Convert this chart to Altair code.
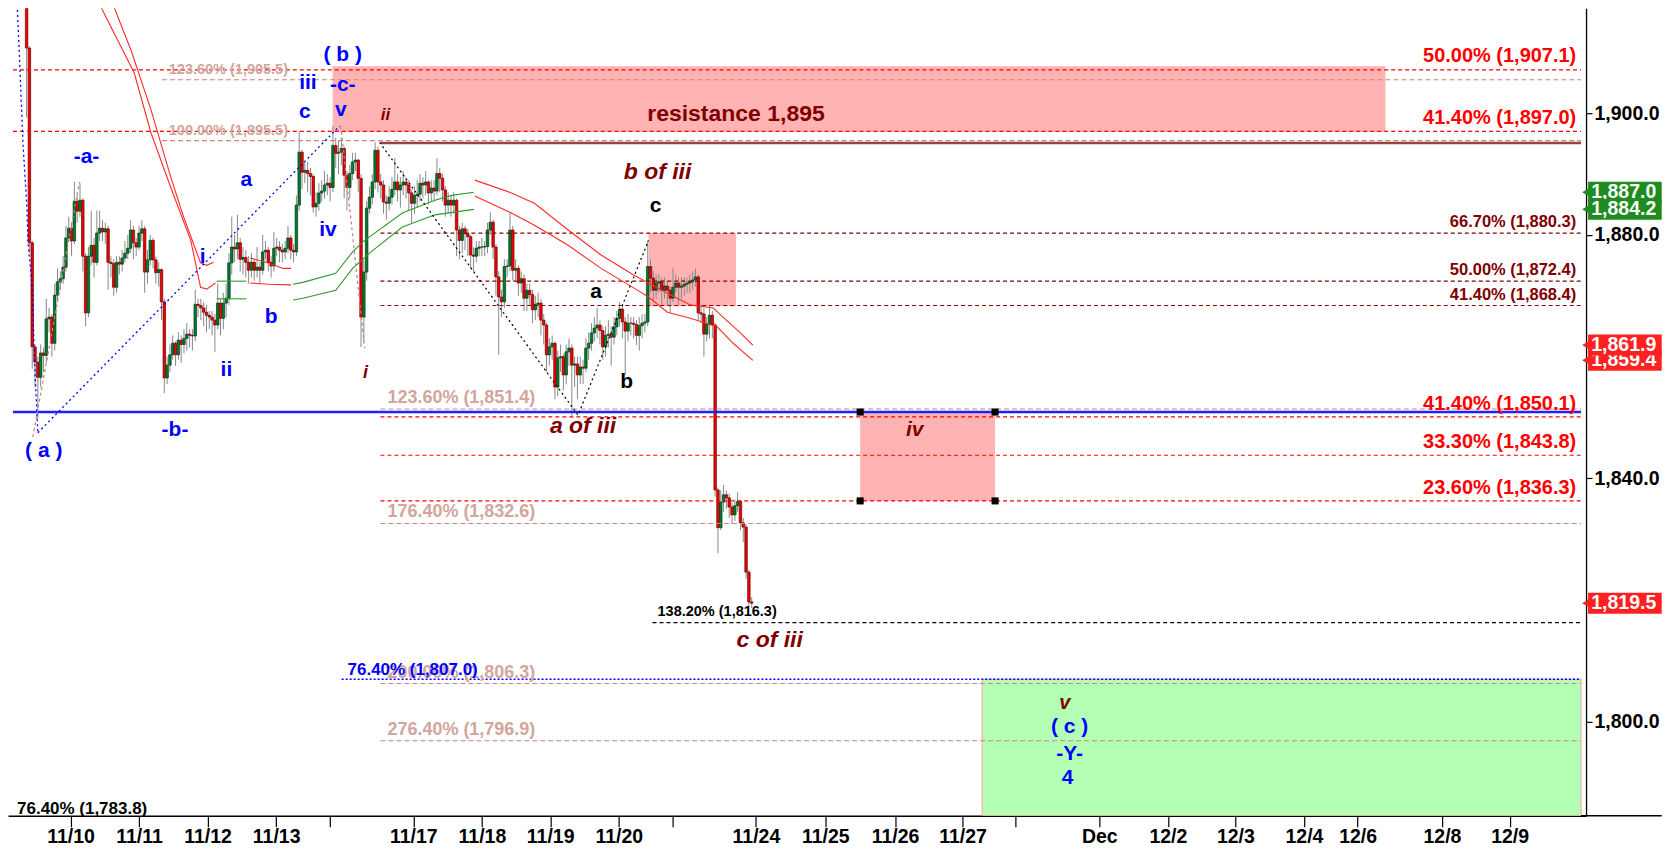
import altair as alt
import pandas as pd

FONT = "Liberation Sans"

# ---------------- candles (bar index 1..259), open = previous close ----------------
FIRST_OPEN = 1925.0
closes = [
    1910.7, 1878.7, 1861.6, 1859.1, 1856.6, 1860.6, 1860.2, 1866.2, 1866.5, 1862.2,
    1870.1, 1872.3, 1872.8, 1874.7, 1879.5, 1881.1, 1879.0, 1885.5, 1883.9, 1885.7,
    1876.5, 1867.2, 1876.5, 1878.3, 1875.5, 1880.3, 1881.1, 1880.5, 1881.0, 1875.5,
    1875.3, 1871.4, 1875.5, 1875.2, 1876.2, 1877.0, 1877.8, 1880.8, 1878.7, 1878.0,
    1880.3, 1881.0, 1873.9, 1875.9, 1879.1, 1875.9, 1873.8, 1874.3, 1869.0, 1856.5,
    1858.6, 1860.3, 1862.2, 1860.3, 1862.7, 1862.0, 1863.0, 1863.7, 1863.5, 1863.4,
    1868.6, 1868.4, 1868.0, 1867.3, 1866.8, 1866.5, 1866.0, 1865.2, 1868.8, 1866.3,
    1868.8, 1869.6, 1875.4, 1878.0, 1877.7, 1878.7, 1876.0, 1876.3, 1875.5, 1874.2,
    1875.5, 1874.2, 1874.7, 1874.2, 1877.2, 1877.5, 1875.5, 1874.9, 1877.8, 1878.0,
    1877.5, 1877.2, 1877.8, 1879.5, 1877.5, 1877.2, 1884.9, 1893.6, 1890.3, 1890.6,
    1890.1, 1889.6, 1884.6, 1885.2, 1886.9, 1887.2, 1888.2, 1888.5, 1887.8, 1894.7,
    1893.4, 1893.6, 1894.2, 1889.8, 1887.8, 1890.1, 1892.0, 1892.3, 1889.3, 1866.5,
    1873.9, 1884.4, 1886.2, 1888.7, 1893.9, 1888.7, 1888.2, 1885.4, 1885.2, 1886.2,
    1887.5, 1888.7, 1887.4, 1888.2, 1888.7, 1888.2, 1886.9, 1885.2, 1886.5, 1886.7,
    1888.5, 1888.2, 1888.7, 1886.9, 1887.7, 1887.2, 1890.1, 1889.3, 1887.4, 1884.9,
    1885.7, 1884.9, 1885.7, 1880.8, 1879.1, 1881.0, 1880.2, 1879.7, 1876.7, 1876.5,
    1877.8, 1878.0, 1878.0, 1878.1, 1880.8, 1882.1, 1878.0, 1873.1, 1869.8, 1869.0,
    1874.8, 1874.9, 1880.8, 1874.2, 1874.5, 1872.1, 1872.8, 1869.6, 1870.9, 1870.2,
    1867.7, 1868.6, 1868.8, 1866.0, 1865.2, 1860.3, 1861.6, 1862.2, 1855.0, 1859.8,
    1860.0, 1857.0, 1860.8, 1861.4, 1858.6, 1858.8, 1857.0, 1858.3, 1858.1, 1861.4,
    1862.2, 1863.9, 1864.7, 1865.2, 1864.3, 1861.6, 1863.5, 1863.7, 1863.2, 1864.9,
    1866.3, 1867.8, 1865.7, 1864.2, 1865.5, 1865.5, 1865.3, 1863.5, 1865.1, 1865.5,
    1865.7, 1874.8, 1872.9, 1870.9, 1872.1, 1872.3, 1870.9, 1871.6, 1870.9, 1869.6,
    1871.4, 1872.1, 1871.4, 1871.6, 1871.9, 1872.1, 1872.3, 1872.6, 1873.1, 1867.2,
    1867.0, 1863.7, 1865.3, 1866.8, 1865.2, 1838.1, 1831.9, 1836.1, 1837.3, 1836.8,
    1835.3, 1834.0, 1835.5, 1836.2, 1832.7, 1832.0, 1824.6, 1819.7, 1819.5,
]
highs = [
    1925.0, 1911.0, 1879.0, 1862.0, 1860.0, 1862.0, 1861.5, 1869.5, 1868.0, 1867.0,
    1872.0, 1874.5, 1874.0, 1876.5, 1881.5, 1883.0, 1882.0, 1888.7, 1886.5, 1888.5,
    1886.0, 1877.0, 1878.0, 1884.0, 1879.5, 1884.0, 1884.0, 1882.5, 1882.0, 1881.5,
    1876.5, 1876.0, 1876.5, 1876.5, 1877.5, 1879.0, 1880.0, 1882.4, 1881.5, 1879.5,
    1881.5, 1882.4, 1881.5, 1877.5, 1880.0, 1879.5, 1876.5, 1875.5, 1874.5, 1869.5,
    1860.0, 1862.0, 1863.5, 1862.5, 1864.0, 1863.5, 1864.5, 1865.5, 1864.5, 1864.5,
    1871.0, 1869.5, 1869.5, 1869.0, 1868.5, 1867.5, 1867.5, 1867.0, 1872.0, 1869.5,
    1870.5, 1872.0, 1877.0, 1883.0, 1880.0, 1883.3, 1879.5, 1878.0, 1877.5, 1876.5,
    1877.0, 1876.0, 1878.0, 1875.5, 1880.0, 1879.0, 1878.0, 1876.5, 1880.5, 1879.5,
    1879.0, 1878.5, 1879.0, 1881.5, 1880.0, 1878.5, 1886.5, 1897.0, 1894.0, 1892.0,
    1892.0, 1891.0, 1890.0, 1887.0, 1888.5, 1889.0, 1890.5, 1890.0, 1889.5, 1897.9,
    1896.0, 1895.5, 1896.0, 1894.5, 1890.5, 1891.5, 1893.5, 1893.5, 1892.5, 1890.0,
    1876.0, 1885.5, 1888.0, 1890.0, 1895.2, 1894.5, 1890.0, 1889.0, 1886.5, 1888.0,
    1889.5, 1892.6, 1890.0, 1889.5, 1890.5, 1889.5, 1889.0, 1887.5, 1888.0, 1889.0,
    1890.0, 1889.5, 1890.5, 1889.0, 1889.0, 1889.0, 1892.6, 1891.0, 1890.0, 1888.0,
    1887.0, 1886.5, 1887.0, 1886.0, 1881.5, 1882.0, 1881.5, 1881.0, 1880.0, 1878.0,
    1879.0, 1879.0, 1879.5, 1879.0, 1882.0, 1883.7, 1882.5, 1878.5, 1874.0, 1871.0,
    1876.0, 1876.0, 1883.7, 1881.5, 1876.0, 1875.0, 1874.0, 1873.5, 1872.0, 1872.0,
    1871.0, 1870.0, 1870.5, 1869.5, 1867.0, 1865.5, 1863.0, 1863.5, 1862.5, 1861.0,
    1862.0, 1860.5, 1862.0, 1863.0, 1862.0, 1860.0, 1860.0, 1860.0, 1859.5, 1863.0,
    1864.0, 1865.5, 1866.5, 1868.0, 1866.0, 1865.0, 1865.0, 1866.0, 1865.0, 1866.5,
    1867.5, 1869.0, 1868.5, 1866.5, 1867.0, 1866.5, 1866.5, 1866.0, 1866.5, 1867.0,
    1867.0, 1879.1, 1876.0, 1874.0, 1873.5, 1873.5, 1873.0, 1873.0, 1872.5, 1871.5,
    1874.5, 1873.5, 1873.0, 1873.0, 1873.0, 1873.0, 1873.5, 1874.0, 1874.5, 1873.5,
    1868.5, 1868.0, 1866.5, 1868.5, 1867.5, 1865.5, 1838.5, 1838.0, 1838.9, 1838.0,
    1837.5, 1836.0, 1836.5, 1837.7, 1836.5, 1833.5, 1832.5, 1825.0, 1820.5,
]
lows = [
    1899.3, 1877.0, 1858.0, 1855.0, 1849.8, 1855.0, 1857.5, 1859.0, 1864.0, 1860.0,
    1861.0, 1869.0, 1871.0, 1872.0, 1874.0, 1879.0, 1876.5, 1878.5, 1882.0, 1883.0,
    1874.0, 1865.0, 1866.5, 1875.0, 1873.0, 1875.0, 1879.0, 1879.0, 1878.5, 1871.0,
    1873.0, 1870.0, 1870.5, 1873.5, 1874.0, 1875.5, 1876.0, 1877.0, 1876.0, 1876.5,
    1877.5, 1879.0, 1870.5, 1872.0, 1875.0, 1874.5, 1872.0, 1871.5, 1866.0, 1854.0,
    1855.5, 1857.5, 1859.5, 1858.5, 1859.5, 1859.0, 1860.5, 1861.0, 1861.5, 1861.0,
    1862.5, 1866.5, 1866.0, 1865.0, 1864.0, 1864.5, 1863.5, 1860.8, 1864.5, 1863.5,
    1864.5, 1866.5, 1868.5, 1873.5, 1875.5, 1876.0, 1874.0, 1873.5, 1873.0, 1872.0,
    1873.0, 1872.5, 1873.0, 1872.0, 1873.5, 1876.0, 1874.0, 1873.0, 1874.0, 1876.5,
    1875.5, 1875.5, 1876.0, 1877.0, 1876.0, 1875.5, 1876.5, 1884.0, 1887.5, 1888.5,
    1887.0, 1886.5, 1883.7, 1883.0, 1884.0, 1885.5, 1886.0, 1886.5, 1885.5, 1887.0,
    1891.0, 1890.0, 1891.5, 1886.0, 1884.0, 1886.0, 1889.0, 1890.5, 1887.0, 1861.6,
    1862.5, 1872.5, 1883.5, 1885.0, 1887.5, 1887.0, 1886.0, 1883.5, 1882.5, 1884.0,
    1885.0, 1886.5, 1885.5, 1884.5, 1886.5, 1886.0, 1884.0, 1882.0, 1883.5, 1884.5,
    1885.5, 1886.0, 1886.5, 1885.0, 1885.5, 1885.5, 1886.5, 1887.0, 1885.5, 1883.0,
    1883.5, 1883.0, 1883.5, 1876.5, 1876.0, 1877.0, 1877.5, 1876.5, 1874.5, 1874.0,
    1875.5, 1876.5, 1876.5, 1876.5, 1877.0, 1880.0, 1876.0, 1870.0, 1860.3, 1866.5,
    1868.0, 1873.0, 1874.0, 1872.5, 1872.5, 1870.0, 1870.5, 1867.5, 1867.5, 1868.5,
    1865.5, 1866.0, 1866.5, 1863.5, 1862.0, 1857.5, 1858.5, 1859.5, 1853.0, 1853.5,
    1857.5, 1854.5, 1855.5, 1858.5, 1850.0, 1855.0, 1853.0, 1855.5, 1855.5, 1857.5,
    1859.5, 1861.0, 1862.5, 1863.0, 1862.0, 1859.5, 1860.0, 1861.5, 1858.5, 1862.0,
    1863.5, 1865.0, 1863.0, 1857.0, 1862.5, 1863.5, 1863.0, 1861.9, 1861.0, 1863.0,
    1864.0, 1865.0, 1870.5, 1869.0, 1869.5, 1870.5, 1868.5, 1869.5, 1868.5, 1867.2,
    1869.0, 1870.5, 1868.5, 1869.5, 1870.0, 1870.5, 1870.5, 1871.0, 1871.5, 1866.0,
    1865.5, 1860.0, 1862.5, 1863.0, 1863.0, 1837.0, 1827.7, 1831.5, 1834.5, 1835.0,
    1833.5, 1832.5, 1833.0, 1834.5, 1831.5, 1829.5, 1823.5, 1819.0, 1818.7,
]

# ---------------- axes ----------------
tick_bars = [16.65, 41.0, 65.4, 89.8, 108.9, 138.6, 163.0, 187.3, 211.7, 230.8, 260.5,
             285.2, 310.0, 334.0, 353.0, 382.7, 407.1, 431.1, 455.5, 474.6, 504.6, 528.7]
tick_labels = ["11/10", "11/11", "11/12", "11/13", "", "11/17", "11/18", "11/19", "11/20", "",
               "11/24", "11/25", "11/26", "11/27", "", "Dec", "12/2", "12/3", "12/4", "12/6",
               "12/8", "12/9"]
y_ticks = [1800, 1840, 1880, 1900]

X_DOMAIN = [-3.84, 554.1]
Y_DOMAIN = [1784.57, 1917.24]

# ---------------- fibonacci / levels ----------------
red_full = [1907.1, 1897.0]
red_right = [1850.1, 1843.8, 1836.3]
darkred_right = [1880.3, 1872.4, 1868.4]
pink_upper = [1905.5, 1895.5]
pink_lower = [1851.4, 1832.6, 1806.3, 1796.9]
black_level = [1816.3]
blue_dot_level = [1807.0]
blue_solid_level = [1850.9]
resistance_level = [1895.1]
LEFT_START = 126.9
PINK_UPPER_START = 49.2
BLACK_START = 223.7
BLUE_DOT_START = 113.1

red_right_labels = ["50.00% (1,907.1)", "41.40% (1,897.0)", "41.40% (1,850.1)",
                    "33.30% (1,843.8)", "23.60% (1,836.3)"]
red_right_label_y = [1909.4, 1899.2, 1852.2, 1846.0, 1838.4]
darkred_labels = ["66.70% (1,880.3)", "50.00% (1,872.4)", "41.40% (1,868.4)"]
darkred_label_y = [1882.1, 1874.2, 1870.1]
pink_small_labels = ["123.60% (1,905.5)", "100.00% (1,895.5)"]
pink_small_y = [1907.1, 1897.0]
pink_big_labels = ["123.60% (1,851.4)", "176.40% (1,832.6)", "200.00% (1,806.3)", "276.40% (1,796.9)"]
pink_big_y = [1853.2, 1834.5, 1808.0, 1798.7]
RIGHT_LABEL_X = 552.4
PINK_SMALL_X = 51.6
PINK_BIG_X = 129.4

# ---------------- boxes ----------------
box_x1 = [109.9, 222.3, 297.6]
box_x2 = [484.5, 253.4, 345.6]
box_lo = [1896.9, 1868.3, 1836.3]
box_hi = [1907.7, 1880.3, 1850.9]
green_box = dict(x1=341.0, x2=X_DOMAIN[1], lo=Y_DOMAIN[0], hi=1807.0)
corner_bar = [297.6, 345.6, 297.6, 345.6]
corner_price = [1850.9, 1850.9, 1836.3, 1836.3]

# ---------------- moving-average envelopes ----------------
red_ma = {
    "A": ([26.2, 32.2, 39.3, 45.3, 52.3, 59.4, 62.9, 65.1, 68.2],
          [1918.6, 1913.1, 1906.6, 1896.7, 1887.8, 1879.1, 1871.4, 1871.1, 1872.1]),
    "B": ([31.1, 38.2, 45.3, 52.3, 56.9, 62.9, 65.1, 67.5],
          [1918.6, 1910.3, 1900.5, 1889.5, 1882.9, 1875.4, 1875.0, 1875.5]),
    "C": ([80.6, 87.0, 92.3, 95.1], [1876.2, 1875.4, 1874.5, 1874.5]),
    "D": ([80.6, 87.0, 95.1], [1872.1, 1871.9, 1871.8]),
    "E": ([160.5, 173.5, 181.7, 193.7, 205.4, 217.0, 229.0, 237.2, 245.3, 248.8, 254.8, 259.4],
          [1889.0, 1886.9, 1885.2, 1880.8, 1876.7, 1873.4, 1870.4, 1868.5, 1868.0, 1866.5, 1864.0, 1861.9]),
    "F": ([160.5, 173.5, 181.7, 193.7, 205.4, 217.0, 222.3, 229.0, 237.2, 246.7, 252.4, 259.4],
          [1886.4, 1883.6, 1881.6, 1878.3, 1874.5, 1871.3, 1869.8, 1867.3, 1866.3, 1864.9, 1862.2, 1859.4]),
}
green_ma = {
    "G1": ([68.6, 79.2], [1872.4, 1872.4]),
    "G2": ([68.6, 79.2], [1869.5, 1869.5]),
    "G3": ([95.8, 99.3, 111.0, 117.0, 121.3, 134.7, 146.3, 152.3, 160.1],
           [1871.9, 1872.2, 1873.7, 1877.2, 1879.1, 1883.6, 1885.7, 1886.5, 1887.0]),
    "G4": ([95.8, 99.3, 111.0, 117.0, 123.0, 134.7, 146.3, 160.1],
           [1869.3, 1869.6, 1870.9, 1874.5, 1877.0, 1881.3, 1883.3, 1884.2]),
}

# ---------------- wave lines ----------------
blue_waves = {
    "W1": ([-2.4, -1.4, -0.3, 1.1, 1.5, 2.9, 3.9, 5.0],
           [1918.6, 1907.6, 1895.1, 1884.6, 1878.7, 1872.1, 1858.3, 1847.5]),
    "W2": ([5.0, 112.4], [1847.5, 1897.9]),
}
brown_waves = {
    "W3": ([3.2, 19.8], [1846.8, 1888.7]),
    "W4": ([112.8, 121.3], [1897.9, 1861.4]),
}
black_waves = {
    "W5": ([126.6, 197.2, 222.3], [1895.2, 1850.4, 1879.1]),
}

# ---------------- wave labels ----------------
blue_text = ["( a )", "-a-", "-b-", "i", "ii", "a", "b", "c", "iii", "iv", "( b )", "-c-", "v",
             "( c )", "-Y-", "4"]
blue_text_x = [7.1, 22.3, 53.8, 63.6, 72.1, 79.2, 88.0, 100.0, 101.1, 108.2, 113.5, 113.5, 112.8,
               372.1, 372.1, 371.4]
blue_text_y = [1844.5, 1892.8, 1847.9, 1876.4, 1857.8, 1889.0, 1866.5, 1900.2, 1904.9, 1880.8,
               1909.5, 1904.6, 1900.5, 1799.2, 1794.7, 1790.8]
darkred_text = ["ii", "i", "b of iii", "a of iii", "c of iii", "iv", "v"]
darkred_text_x = [128.7, 121.6, 225.5, 199.0, 265.4, 317.0, 370.4]
darkred_text_y = [1899.7, 1857.3, 1890.3, 1848.6, 1813.5, 1847.9, 1803.1]
darkred_text_size = [17, 18, 23, 23, 23, 21, 20]
black_text = ["a", "c", "b"]
black_text_x = [203.6, 224.8, 214.5]
black_text_y = [1870.6, 1884.7, 1855.8]

# ---------------- price tags (right side) ----------------
tag_price = [1887.0, 1884.2, 1859.4, 1861.9, 1819.5]
tag_color = ["#1e8c1e", "#1e8c1e", "#ff2020", "#ff2020", "#ff2020"]
TAG_TIP_X = 557.3
TAG_X1 = 556.6
TAG_X2 = 582.8
TAG_TEXT_X = 569.3
TAG_HALF = 1.72

# =====================================================================
xs = alt.Scale(domain=X_DOMAIN, nice=False, zero=False)
ys = alt.Scale(domain=Y_DOMAIN, nice=False, zero=False)

label_expr = ("[" + ",".join("'%s'" % t for t in tick_labels) + "][indexof(["
              + ",".join(str(v) for v in tick_bars) + "], datum.value)]")

x_axis = alt.Axis(values=tick_bars, labelExpr=label_expr, orient="bottom", tickSize=11,
                  tickColor="black", domainColor="black", domainWidth=1.3, tickWidth=1.2,
                  labelFont=FONT, labelFontSize=19.5, labelFontWeight="bold",
                  labelColor="black", grid=False, labelPadding=1, labelOverlap=False,
                  labelFlush=False)
y_axis = alt.Axis(values=y_ticks, format=",.1f", orient="right", tickSize=6,
                  tickColor="black", domainColor="black", domainWidth=1.3, tickWidth=1.2,
                  labelFont=FONT, labelFontSize=19.5, labelFontWeight="bold",
                  labelColor="black", grid=False, labelPadding=2, labelOverlap=False,
                  labelFlush=False)


def X(field):
    return alt.X(field=field, type="quantitative", scale=xs, axis=x_axis, title=None)


def Y(field):
    return alt.Y(field=field, type="quantitative", scale=ys, axis=y_axis, title=None)


opens = [FIRST_OPEN] + closes[:-1]
candles = pd.DataFrame({
    "bar": list(range(1, len(closes) + 1)),
    "open": opens, "close": closes, "high": highs, "low": lows,
})
candles["dir"] = ["up" if c >= o else "down" for o, c in zip(opens, closes)]

layers = []

# boxes
boxes = pd.DataFrame({"x1": box_x1, "x2": box_x2, "lo": box_lo, "hi": box_hi})
layers.append(alt.Chart(boxes).mark_rect(color="#ffb3b3", clip=True).encode(
    x=X("x1"), x2="x2", y=Y("lo"), y2="hi"))
gb = pd.DataFrame([green_box])
layers.append(alt.Chart(gb).mark_rect(color="#b3ffb3", stroke="#f4a6a6", strokeWidth=1,
                                      clip=True).encode(
    x=X("x1"), x2="x2", y=Y("lo"), y2="hi"))

# candles: wicks and bodies
layers.append(alt.Chart(candles).mark_rule(color="#888888", strokeWidth=1, clip=True).encode(
    x=X("bar"), y=Y("low"), y2="high"))
layers.append(alt.Chart(candles).mark_bar(size=2.5, strokeWidth=0.7, clip=True).encode(
    x=X("bar"), y=Y("open"), y2="close",
    color=alt.Color("dir:N", scale=alt.Scale(domain=["up", "down"], range=["#007a2e", "#ee0000"]),
                    legend=None),
    stroke=alt.Stroke("dir:N", scale=alt.Scale(domain=["up", "down"], range=["#003a14", "#700000"]),
                      legend=None)))


def level_layer(levels, x1, x2, color, width, dash=None):
    df = pd.DataFrame({"price": levels, "x1": [x1] * len(levels), "x2": [x2] * len(levels)})
    kw = dict(color=color, strokeWidth=width, clip=True)
    if dash is not None:
        kw["strokeDash"] = dash
    return alt.Chart(df).mark_rule(**kw).encode(x=X("x1"), x2="x2", y=Y("price"))


XMIN, XMAX = X_DOMAIN
layers += [
    level_layer(pink_upper, PINK_UPPER_START, XMAX, "#c8877d", 1.1, [5, 3]),
    level_layer(pink_lower, LEFT_START, XMAX, "#c8877d", 1.1, [5, 3]),
    level_layer(red_full, XMIN, XMAX, "#ff0000", 1.2, [4, 3]),
    level_layer(red_right, LEFT_START, XMAX, "#ff0000", 1.2, [4, 3]),
    level_layer(darkred_right, LEFT_START, XMAX, "#8b0000", 1.2, [4, 3]),
    level_layer(black_level, BLACK_START, XMAX, "#000000", 1.2, [4, 3]),
    level_layer(blue_dot_level, BLUE_DOT_START, XMAX, "#0000ff", 1.3, [2, 2]),
    level_layer(blue_solid_level, XMIN, XMAX, "#2020ff", 2.6),
    level_layer(resistance_level, LEFT_START, XMAX, "#9a4343", 2.6),
]


def poly_layer(groups, color, width, dash=None):
    rows = []
    for name, (bx, py) in groups.items():
        for i, (b, p) in enumerate(zip(bx, py)):
            rows.append({"g": name, "bar": b, "price": p, "o": i})
    df = pd.DataFrame(rows)
    kw = dict(color=color, strokeWidth=width, clip=True)
    if dash is not None:
        kw["strokeDash"] = dash
    return alt.Chart(df).mark_line(**kw).encode(
        x=X("bar"), y=Y("price"), detail="g:N", order="o:Q")


layers += [
    poly_layer(red_ma, "#ff2a2a", 1.1),
    poly_layer(green_ma, "#2e9a2e", 1.1),
    poly_layer(blue_waves, "#0000ff", 1.3, [2, 3]),
    poly_layer(brown_waves, "#c08078", 1.2, [3, 3]),
    poly_layer(black_waves, "#000000", 1.2, [2, 3]),
]

# corner handles of the iv box
corners = pd.DataFrame({"bar": corner_bar, "price": corner_price})
layers.append(alt.Chart(corners).mark_square(color="black", size=50, opacity=1, filled=True,
                                             clip=True).encode(x=X("bar"), y=Y("price")))


def text_layer(texts, xs_, ys_, color, size, align="center", italic=False, sizes=None):
    df = pd.DataFrame({"t": texts, "bar": xs_, "price": ys_})
    kw = dict(color=color, fontWeight="bold", align=align, baseline="middle", font=FONT,
              fontSize=size)
    if italic:
        kw["fontStyle"] = "italic"
    enc = dict(x=X("bar"), y=Y("price"), text="t:N")
    if sizes is not None:
        df["fs"] = sizes
        enc["size"] = alt.Size("fs:Q", scale=None, legend=None)
    return alt.Chart(df).mark_text(**kw).encode(**enc)


layers += [
    text_layer(pink_small_labels, [PINK_SMALL_X] * 2, pink_small_y, "#d0a69d", 14.5, "left"),
    text_layer(pink_big_labels, [PINK_BIG_X] * 4, pink_big_y, "#d0a69d", 18, "left"),
    text_layer(["76.40% (1,807.0)"], [115.2], [1808.5], "#0000ff", 17, "left"),
    text_layer(["138.20% (1,816.3)"], [225.5], [1818.1], "#000000", 14.5, "left"),
    text_layer(["76.40% (1,783.8)"], [-2.4], [1785.7], "#000000", 17, "left"),
    text_layer(red_right_labels, [RIGHT_LABEL_X] * 5, red_right_label_y, "#ff0000", 20, "right"),
    text_layer(darkred_labels, [RIGHT_LABEL_X] * 3, darkred_label_y, "#800000", 16.5, "right"),
    text_layer(["resistance 1,895"], [253.4], [1899.8], "#800000", 23),
    text_layer(blue_text, blue_text_x, blue_text_y, "#0000ff", 21),
    text_layer(black_text, black_text_x, black_text_y, "#000000", 21),
    text_layer(darkred_text, darkred_text_x, darkred_text_y, "#800000", 21, italic=True,
               sizes=darkred_text_size),
]

# x-axis line extension under the price scale
ext = pd.DataFrame({"x1": [XMAX], "x2": [TAG_X2], "price": [Y_DOMAIN[0]]})
layers.append(alt.Chart(ext).mark_rule(color="black", strokeWidth=1.3, clip=False).encode(
    x=X("x1"), x2="x2", y=Y("price")))

# price tags
for p, c in zip(tag_price, tag_color):
    df = pd.DataFrame({"price": [p], "lo": [p - TAG_HALF], "hi": [p + TAG_HALF],
                       "x1": [TAG_X1], "x2": [TAG_X2], "tip": [TAG_TIP_X], "tx": [TAG_TEXT_X],
                       "t": ["{:,.1f}".format(p)]})
    base = alt.Chart(df)
    layers.append(base.mark_rect(color=c, clip=False).encode(x=X("x1"), x2="x2", y=Y("lo"), y2="hi"))
    layers.append(base.mark_point(shape="triangle-left", filled=True, color=c, opacity=1, size=330,
                                  clip=False).encode(x=X("tip"), y=Y("price")))
    layers.append(base.mark_text(color="white", fontWeight="bold", fontSize=19.5, font=FONT,
                                 align="center", baseline="middle", clip=False).encode(
        x=X("tx"), y=Y("price"), text="t:N"))

chart = alt.layer(*layers).properties(
    width=1579, height=808,
    padding={"left": 0, "top": 0, "right": 0, "bottom": 0},
    background="white",
).configure(font=FONT).configure_view(strokeWidth=0)

chart.save("out.html", embed_options={"renderer": "svg", "actions": False})
